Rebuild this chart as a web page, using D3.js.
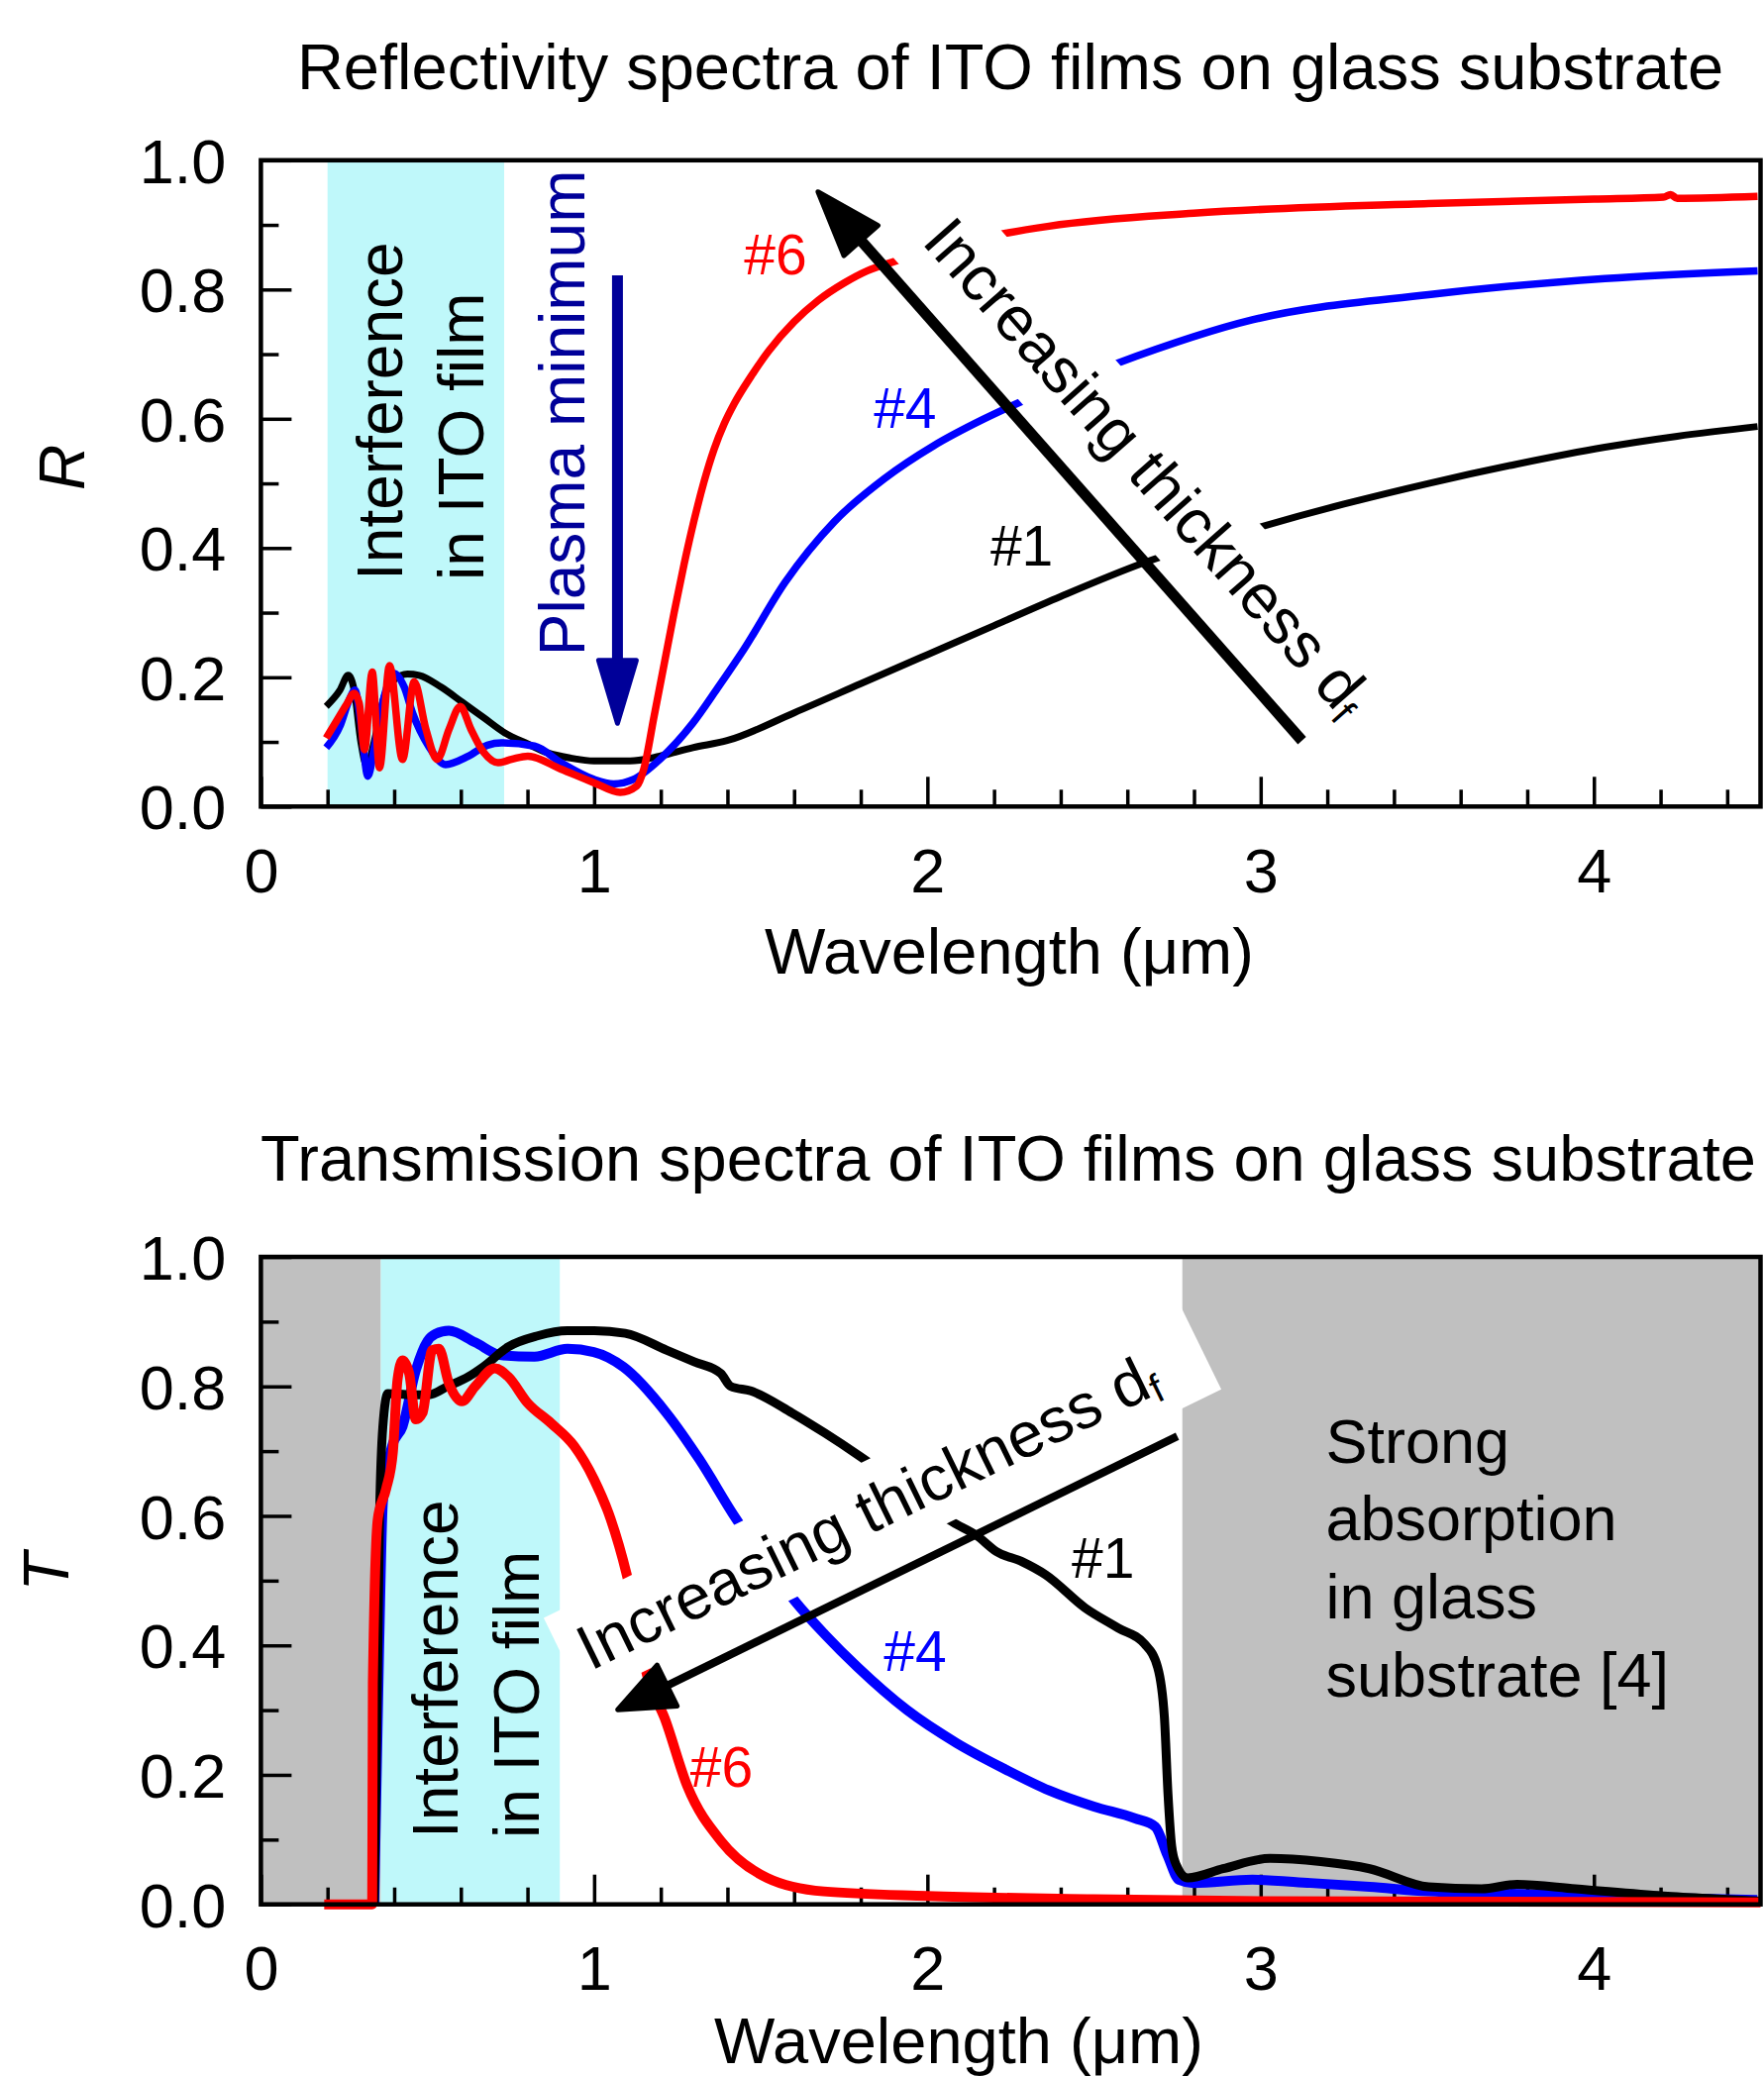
<!DOCTYPE html>
<html>
<head>
<meta charset="utf-8">
<script src="https://cdn.jsdelivr.net/npm/d3@7"></script>
<style>
  body { margin: 0; background: #fff; }
  svg text { font-family: "Liberation Sans", Arial, Helvetica, sans-serif; }
</style>
</head>
<body>
<svg id="chart" width="1781" height="2096"></svg>
<script>
// ---- data (wavelength in um, value) ----
const refl1 = [[0.196,0.155],[0.237,0.180],[0.262,0.203],[0.28,0.18],[0.30,0.10],[0.318,0.062],[0.34,0.10],[0.37,0.17],[0.40,0.196],[0.44,0.205],[0.475,0.203],[0.54,0.185],[0.603,0.162],[0.67,0.137],[0.732,0.114],[0.80,0.097],[0.861,0.083],[0.93,0.075],[0.999,0.0705],[1.108,0.0705],[1.197,0.078],[1.296,0.091],[1.399,0.102],[1.6,0.145],[1.8,0.19],[2.0,0.235],[2.2,0.28],[2.4,0.325],[2.649,0.377],[3.001,0.433],[3.25,0.468],[3.504,0.50],[3.77,0.53],[4.033,0.556],[4.25,0.573],[4.491,0.588]];
const refl4 = [[0.196,0.091],[0.237,0.124],[0.265,0.165],[0.282,0.180],[0.30,0.13],[0.321,0.047],[0.34,0.09],[0.37,0.17],[0.40,0.206],[0.43,0.185],[0.455,0.145],[0.504,0.093],[0.554,0.065],[0.623,0.078],[0.68,0.095],[0.722,0.0985],[0.821,0.0935],[0.90,0.068],[0.999,0.042],[1.058,0.035],[1.118,0.042],[1.197,0.073],[1.296,0.129],[1.37,0.183],[1.449,0.243],[1.573,0.347],[1.721,0.441],[1.87,0.507],[2.018,0.558],[2.167,0.599],[2.275,0.625],[2.57,0.686],[2.975,0.753],[3.504,0.792],[4.033,0.817],[4.491,0.829]];
const refl6 = [[0.196,0.106],[0.23,0.135],[0.257,0.158],[0.28,0.175],[0.295,0.16],[0.311,0.088],[0.334,0.208],[0.356,0.060],[0.386,0.218],[0.425,0.073],[0.46,0.193],[0.495,0.12],[0.529,0.073],[0.565,0.12],[0.598,0.155],[0.63,0.12],[0.663,0.088],[0.712,0.068],[0.752,0.073],[0.801,0.078],[0.90,0.058],[0.999,0.037],[1.078,0.022],[1.128,0.032],[1.15,0.06],[1.18,0.14],[1.21,0.22],[1.24,0.30],[1.27,0.375],[1.30,0.443],[1.33,0.503],[1.36,0.553],[1.39,0.592],[1.42,0.623],[1.47,0.665],[1.524,0.705],[1.6,0.75],[1.672,0.783],[1.75,0.81],[1.82,0.829],[1.904,0.844],[2.05,0.866],[2.235,0.887],[2.365,0.898],[2.799,0.918],[3.504,0.933],[4.0,0.94],[4.209,0.943],[4.23,0.947],[4.25,0.941],[4.491,0.944]];

const trans1 = [[0.34,0.0],[0.35,0.35],[0.356,0.596],[0.366,0.738],[0.381,0.789],[0.45,0.787],[0.504,0.787],[0.56,0.80],[0.623,0.815],[0.667,0.83],[0.742,0.861],[0.83,0.878],[0.92,0.886],[1.0,0.886],[1.093,0.882],[1.217,0.856],[1.30,0.838],[1.38,0.82],[1.41,0.80],[1.47,0.793],[1.594,0.759],[1.692,0.728],[1.795,0.693],[1.94,0.64],[2.077,0.59],[2.147,0.57],[2.207,0.545],[2.285,0.529],[2.355,0.509],[2.473,0.458],[2.572,0.427],[2.652,0.402],[2.691,0.366],[2.711,0.29],[2.722,0.17],[2.733,0.09],[2.746,0.062],[2.781,0.041],[2.887,0.055],[3.028,0.071],[3.18,0.066],[3.327,0.055],[3.504,0.027],[3.663,0.024],[3.769,0.031],[3.945,0.024],[4.209,0.013],[4.385,0.008],[4.5,0.005]];
const trans4 = [[0.34,0.0],[0.355,0.4],[0.366,0.62],[0.394,0.708],[0.425,0.738],[0.465,0.825],[0.50,0.87],[0.524,0.881],[0.564,0.886],[0.643,0.868],[0.722,0.848],[0.821,0.846],[0.92,0.858],[0.999,0.853],[1.088,0.83],[1.217,0.759],[1.316,0.687],[1.425,0.596],[1.5,0.54],[1.603,0.468],[1.692,0.417],[1.791,0.366],[1.939,0.30],[2.088,0.249],[2.236,0.208],[2.365,0.176],[2.5,0.151],[2.622,0.133],[2.684,0.12],[2.72,0.076],[2.755,0.038],[2.799,0.033],[2.975,0.038],[3.15,0.033],[3.327,0.027],[3.504,0.02],[3.856,0.015],[4.209,0.01],[4.49,0.007]];
const trans6 = [[0.19,0.0],[0.334,0.0],[0.336,0.341],[0.351,0.596],[0.376,0.642],[0.396,0.698],[0.41,0.81],[0.425,0.84],[0.445,0.82],[0.465,0.749],[0.485,0.759],[0.514,0.856],[0.534,0.858],[0.564,0.805],[0.603,0.777],[0.643,0.80],[0.702,0.828],[0.742,0.815],[0.801,0.774],[0.871,0.743],[0.94,0.708],[0.999,0.657],[1.049,0.596],[1.098,0.509],[1.161,0.35],[1.212,0.287],[1.28,0.182],[1.382,0.097],[1.519,0.041],[1.689,0.02],[2.0,0.013],[2.5,0.008],[3.0,0.005],[4.5,0.003]];

// shaded wavelength ranges
const reflCyan = [[0.2, 0.73]];
const transCyan = [[0.36, 0.897]];
const transGray = [[0, 0.36], [2.765, 4.5]];

// ticks
const xMajorTicks = [0, 1, 2, 3, 4];
const xMinorTicks = [0.2,0.4,0.6,0.8,1.2,1.4,1.6,1.8,2.2,2.4,2.6,2.8,3.2,3.4,3.6,3.8,4.2,4.4];
const yMajorTicks = [0, 0.2, 0.4, 0.6, 0.8, 1.0];
const yMinorTicks = [0.1, 0.3, 0.5, 0.7, 0.9];

const svg = d3.select("#chart");
const CYAN = "#BFF8FA", GRAY = "#C0C0C0", NAVY = "#000099";

const x = d3.scaleLinear().domain([0, 4.5]).range([263.4, 1777.5]);

function drawPanel(cfg) {
  const y = d3.scaleLinear().domain([0, 1]).range([cfg.bottom, cfg.top]);
  const g = svg.append("g");

  // bands
  cfg.bands.forEach(b => {
    b.ranges.forEach(r => {
      g.append("rect")
        .attr("x", x(r[0])).attr("y", cfg.top)
        .attr("width", x(r[1]) - x(r[0])).attr("height", cfg.bottom - cfg.top)
        .attr("fill", b.color);
    });
  });

  // ticks (inside)
  const styleAxis = a => {
    a.select(".domain").remove();
    a.selectAll(".tick line").attr("stroke", "#000").attr("stroke-width", 3.5);
    a.attr("font-family", '"Liberation Sans", Arial, sans-serif').attr("font-size", 63);
    a.selectAll(".tick text").attr("fill", "#000");
  };
  g.append("g").attr("transform", `translate(0,${cfg.bottom})`)
    .call(d3.axisBottom(x).tickValues(xMinorTicks).tickSize(-17).tickFormat(""))
    .call(styleAxis);
  g.append("g").attr("transform", `translate(0,${cfg.bottom})`)
    .call(d3.axisBottom(x).tickValues(xMajorTicks).tickSize(-30).tickPadding(42).tickFormat(d3.format("d")))
    .call(styleAxis);
  g.append("g").attr("transform", `translate(${x(0)},0)`)
    .call(d3.axisLeft(y).tickValues(yMinorTicks).tickSize(-18).tickFormat(""))
    .call(styleAxis);
  g.append("g").attr("transform", `translate(${x(0)},0)`)
    .call(d3.axisLeft(y).tickValues(yMajorTicks).tickSize(-31).tickPadding(35).tickFormat(d3.format(".1f")))
    .call(styleAxis)
    .selectAll(".tick text").attr("dy", "0.36em");

  // curves
  const line = d3.line().x(d => x(d[0])).y(d => y(d[1])).curve(d3.curveMonotoneX);
  cfg.series.forEach(s => {
    g.append("path").datum(s.data)
      .attr("d", line)
      .attr("fill", "none")
      .attr("stroke", s.color)
      .attr("stroke-width", s.width)
      .attr("stroke-linejoin", "round");
  });

  // "Increasing thickness" annotation with white backing box
  const a = cfg.arrow;
  const tipX = x(a.tip[0]), tipY = y(a.tip[1]);
  const tailX = x(a.tail[0]), tailY = y(a.tail[1]);
  const L = Math.hypot(tailX - tipX, tailY - tipY);
  const rx = (tailX - tipX) / L, ry = (tailY - tipY) / L;
  const theta = Math.atan2(ry, rx);
  const mx = Math.sin(theta), my = -Math.cos(theta);
  const sx = tipX + a.along * rx + a.perp * mx;
  const sy = tipY + a.along * ry + a.perp * my;
  const tg = g.append("g").attr("transform", `translate(${sx},${sy}) rotate(${theta * 180 / Math.PI})`);
  tg.append("rect").attr("x", a.box[0]).attr("y", a.box[1]).attr("width", a.box[2]).attr("height", a.box[3]).attr("fill", "#fff");
  const t = tg.append("text").attr("font-size", 64).attr("fill", "#000").text("Increasing thickness d");
  t.append("tspan").attr("font-size", 40).attr("dy", 8).text("f");
  drawArrow(g, tailX, tailY, tipX, tipY, a.width, a.headLen, a.headHalf, "#000");

  // Interference label (rotated, two lines)
  cfg.interference.lines.forEach((txt, i) => {
    g.append("text")
      .attr("transform", `translate(${x(cfg.interference.x[i])},${y(cfg.interference.y)}) rotate(-90)`)
      .attr("font-size", 64).attr("fill", "#000").text(txt);
  });

  // curve labels
  cfg.labels.forEach(l => {
    g.append("text").attr("x", x(l.at[0])).attr("y", y(l.at[1]))
      .attr("font-size", 57).attr("fill", l.color).text(l.text);
  });

  if (cfg.extra) cfg.extra(g, y);

  // frame
  g.append("rect").attr("x", x(0)).attr("y", cfg.top)
    .attr("width", x(4.5) - x(0)).attr("height", cfg.bottom - cfg.top)
    .attr("fill", "none").attr("stroke", "#000").attr("stroke-width", 4.5);

  // titles
  g.append("text").attr("x", cfg.titleX).attr("y", cfg.titleY).attr("text-anchor", "middle")
    .attr("font-size", 65).attr("fill", "#000").text(cfg.title);
  g.append("text").attr("x", cfg.xTitleX).attr("y", cfg.xTitleY).attr("text-anchor", "middle")
    .attr("font-size", 65).attr("fill", "#000").text("Wavelength (\u03BCm)");
  g.append("text")
    .attr("transform", `translate(${cfg.yLabelX},${cfg.yLabelY}) rotate(-90)`)
    .attr("text-anchor", "middle").attr("font-size", 64).attr("font-style", "italic")
    .attr("fill", "#000").text(cfg.yLabel);
}

function drawArrow(g, x1, y1, x2, y2, width, headLen, headHalf, color) {
  const L = Math.hypot(x2 - x1, y2 - y1);
  const ux = (x2 - x1) / L, uy = (y2 - y1) / L;
  const px = -uy, py = ux;
  const bx = x2 - ux * headLen, by = y2 - uy * headLen;
  g.append("line").attr("x1", x1).attr("y1", y1).attr("x2", bx + ux * 4).attr("y2", by + uy * 4)
    .attr("stroke", color).attr("stroke-width", width);
  g.append("path")
    .attr("d", `M${x2 - ux * 2.5},${y2 - uy * 2.5}L${bx + px * headHalf},${by + py * headHalf}L${bx - px * headHalf},${by - py * headHalf}Z`)
    .attr("fill", color).attr("stroke", color).attr("stroke-width", 5).attr("stroke-linejoin", "round");
}

// ---- top panel: reflectivity ----
drawPanel({
  top: 161.8, bottom: 814.3,
  title: "Reflectivity spectra of ITO films on glass substrate", titleX: 1020, titleY: 90,
  xTitleX: 1019, xTitleY: 983,
  yLabel: "R", yLabelX: 85, yLabelY: 472,
  bands: [{ ranges: reflCyan, color: CYAN }],
  series: [
    { data: refl1, color: "#000", width: 7 },
    { data: refl4, color: "#0000FF", width: 7.5 },
    { data: refl6, color: "#FF0000", width: 7.5 }
  ],
  arrow: { tip: [1.667, 0.954], tail: [3.124, 0.102], along: 109, perp: 44,
           box: [-17, -69, 700, 100], width: 11, headLen: 68, headHalf: 23 },
  interference: { lines: ["Interference", "in ITO film"], x: [0.425, 0.668], y: 0.35 },
  labels: [
    { text: "#6", at: [1.45, 0.823], color: "#FF0000" },
    { text: "#4", at: [1.839, 0.586], color: "#0000FF" },
    { text: "#1", at: [2.189, 0.373], color: "#000" }
  ],
  extra: (g, y) => {
    g.append("text")
      .attr("transform", `translate(${x(0.972)},${y(0.233)}) rotate(-90)`)
      .attr("font-size", 64).attr("fill", NAVY).text("Plasma minimum");
    drawArrow(g, x(1.070), y(0.822), x(1.070), y(0.125), 11, 66, 19, NAVY);
  }
});

// ---- bottom panel: transmission ----
drawPanel({
  top: 1269, bottom: 1922.7,
  title: "Transmission spectra of ITO films on glass substrate", titleX: 1018, titleY: 1192,
  xTitleX: 968, xTitleY: 2083,
  yLabel: "T", yLabelX: 69, yLabelY: 1587,
  bands: [{ ranges: transGray, color: GRAY }, { ranges: transCyan, color: CYAN }],
  series: [
    { data: trans4, color: "#0000FF", width: 10 },
    { data: trans1, color: "#000", width: 9 },
    { data: trans6, color: "#FF0000", width: 10 }
  ],
  arrow: { tip: [1.064, 0.299], tail: [2.75, 0.723], along: -5, perp: 47,
           box: [-19, -69, 716, 93], width: 8, headLen: 58, headHalf: 23 },
  interference: { lines: ["Interference", "in ITO film"], x: [0.59, 0.833], y: 0.102 },
  labels: [
    { text: "#1", at: [2.433, 0.504], color: "#000" },
    { text: "#4", at: [1.869, 0.36], color: "#0000FF" },
    { text: "#6", at: [1.288, 0.181], color: "#FF0000" }
  ],
  extra: (g, y) => {
    const lines = ["Strong", "absorption", "in glass", "substrate [4]"];
    const base = [0.682, 0.563, 0.442, 0.321];
    lines.forEach((t, i) => {
      g.append("text").attr("x", x(3.195)).attr("y", y(base[i]))
        .attr("font-size", 63).attr("fill", "#000").text(t);
    });
  }
});
</script>
</body>
</html>
